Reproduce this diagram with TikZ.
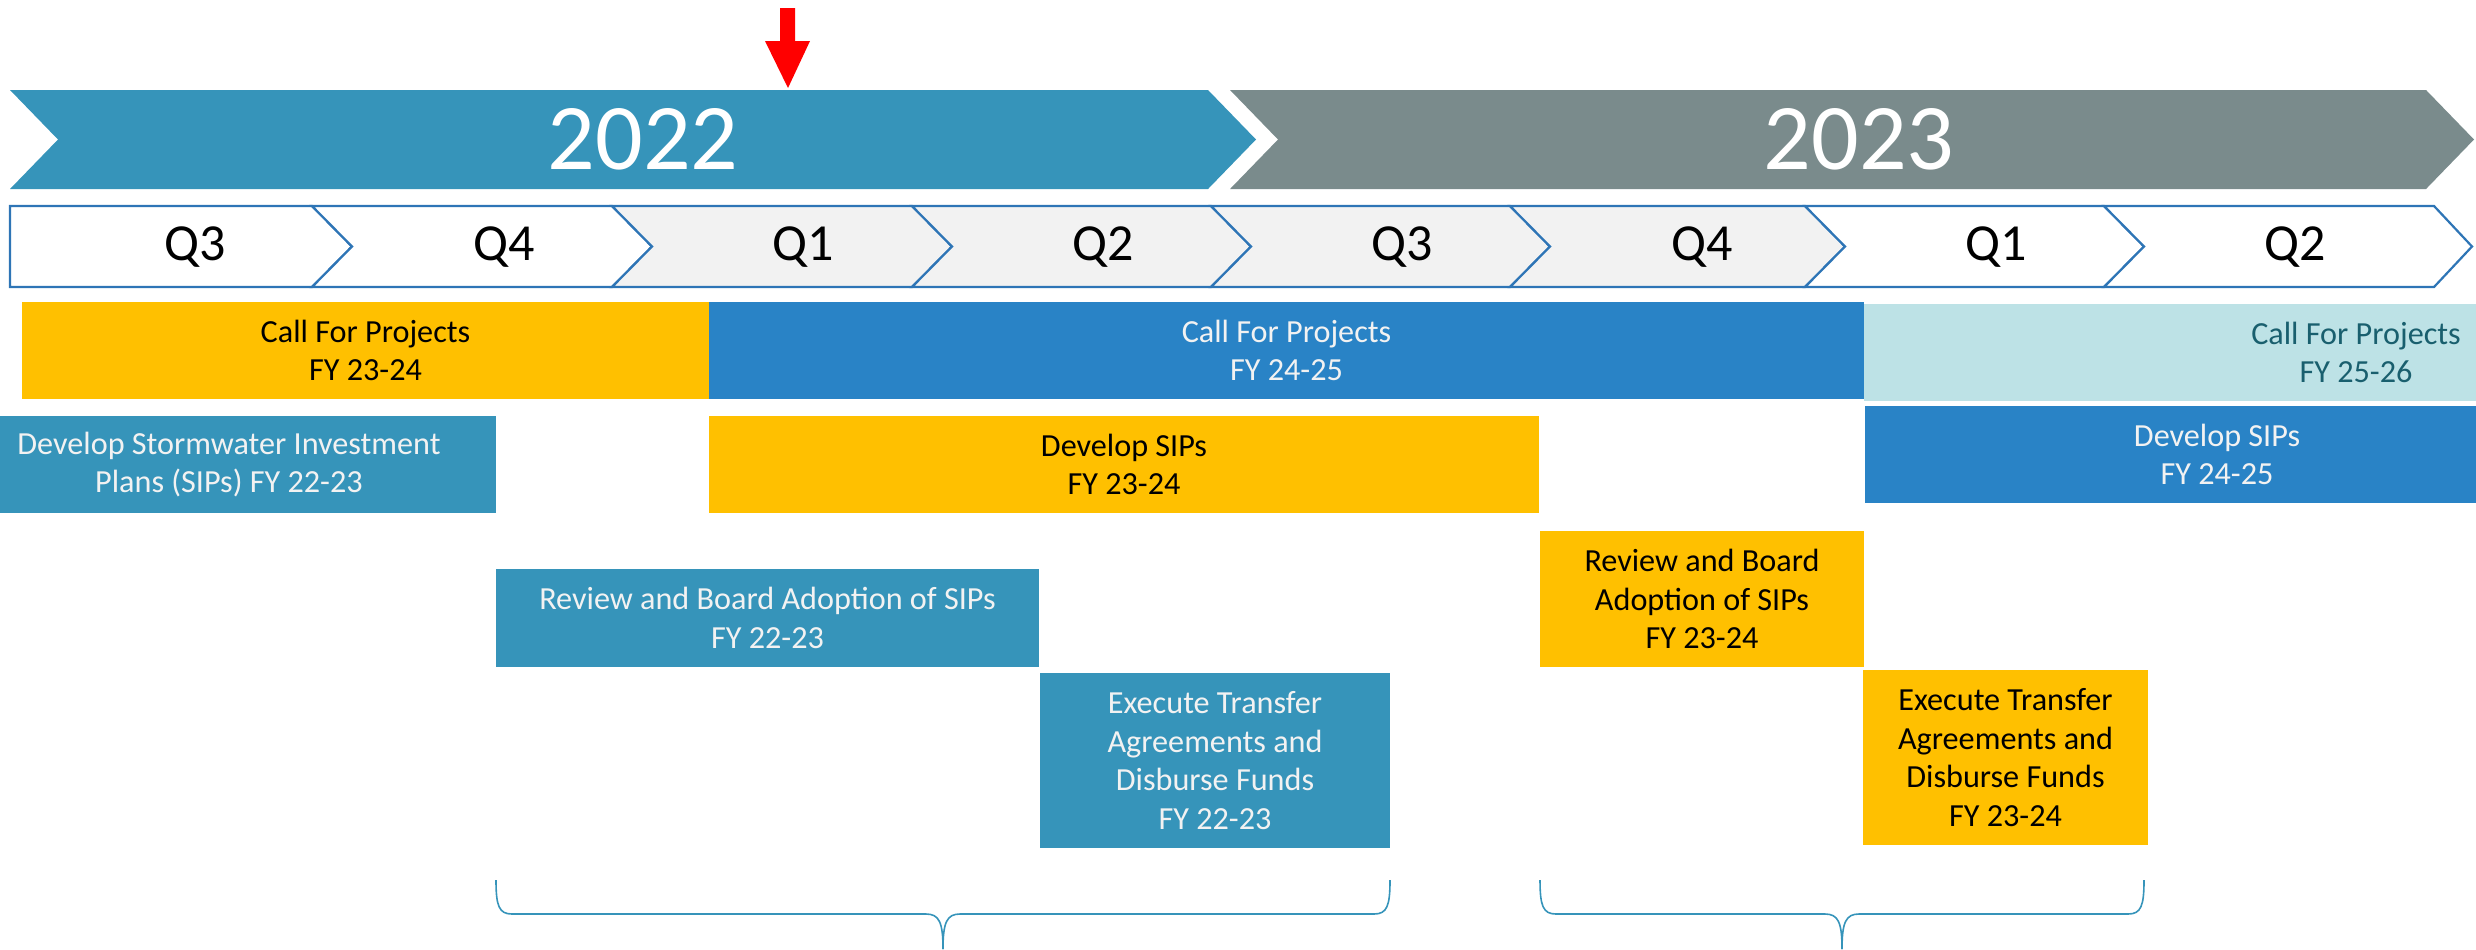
\documentclass[tikz,border=0pt]{standalone}
\usepackage{fontspec}
\setmainfont{Carlito}
\definecolor{steel}{RGB}{54,148,186}
\definecolor{slate}{RGB}{122,139,140}
\definecolor{barblue}{RGB}{41,131,198}
\definecolor{gold}{RGB}{255,192,0}
\definecolor{paleteal}{RGB}{189,226,230}
\definecolor{darkteal}{RGB}{25,95,110}
\definecolor{lighttext}{RGB}{242,242,242}
\definecolor{qline}{RGB}{46,117,182}
\definecolor{qgray}{RGB}{242,242,242}
\begin{document}
\begin{tikzpicture}[x=0.5pt,y=-0.5pt,
  bar/.style={rectangle, inner sep=0pt, outer sep=0pt, align=center,
    font=\fontsize{16.1}{19.2}\selectfont},
  goldbar/.style={bar, fill=gold, text=black},
  steelbar/.style={bar, fill=steel, text=lighttext},
  bluebar/.style={bar, fill=barblue, text=lighttext},
  palebar/.style={bar, fill=paleteal, text=darkteal},
  qsec/.style={draw=qline, line width=1.1pt, line join=miter},
  qlabel/.style={font=\fontsize{26}{28}\selectfont, text=black, inner sep=0pt},
  yearlabel/.style={font=\fontsize{47}{50}\selectfont, text=white, inner sep=0pt},
  bracepath/.style={draw=steel, line width=0.8pt},
]
\clip (0,0) rectangle (2476,949);
\useasboundingbox (0,0) rectangle (2476,949);

% year banners
\fill[steel] (10,90) -- (1208,90) -- (1256,139.5) -- (1208,189) -- (10,189) -- (58,139.5) -- cycle;
\fill[slate] (1230,90) -- (2426,90) -- (2474,139.5) -- (2426,189) -- (1230,189) -- (1278,139.5) -- cycle;
\node[yearlabel] (y2022) at (643,139) {2022};
\node[yearlabel] (y2023) at (1859,139) {2023};

% red marker arrow
\fill[red] (780,8) -- (795,8) -- (795,41) -- (810,41) -- (788,88) -- (765,41) -- (780,41) -- cycle;

% quarter chevrons
\path[qsec, fill=white] (10,206) -- (312,206) -- (352,246.5) -- (312,287) -- (10,287) -- cycle;
\path[qsec, fill=white] (312,206) -- (612,206) -- (652,246.5) -- (612,287) -- (312,287) -- (352,246.5) -- cycle;
\path[qsec, fill=qgray] (612,206) -- (912,206) -- (952,246.5) -- (912,287) -- (612,287) -- (652,246.5) -- cycle;
\path[qsec, fill=qgray] (912,206) -- (1211,206) -- (1251,246.5) -- (1211,287) -- (912,287) -- (952,246.5) -- cycle;
\path[qsec, fill=qgray] (1211,206) -- (1510,206) -- (1550,246.5) -- (1510,287) -- (1211,287) -- (1251,246.5) -- cycle;
\path[qsec, fill=qgray] (1510,206) -- (1805,206) -- (1845,246.5) -- (1805,287) -- (1510,287) -- (1550,246.5) -- cycle;
\path[qsec, fill=white] (1805,206) -- (2104,206) -- (2144,246.5) -- (2104,287) -- (1805,287) -- (1845,246.5) -- cycle;
\path[qsec, fill=white] (2104,206) -- (2434,206) -- (2472,246.5) -- (2434,287) -- (2104,287) -- (2144,246.5) -- cycle;

\node[qlabel] (q1a) at (195,247) {Q3};
\node[qlabel] (q2a) at (504,247) {Q4};
\node[qlabel] (q3a) at (803,247) {Q1};
\node[qlabel] (q4a) at (1103,247) {Q2};
\node[qlabel] (q5a) at (1402,247) {Q3};
\node[qlabel] (q6a) at (1702,247) {Q4};
\node[qlabel] (q7a) at (1996,247) {Q1};
\node[qlabel] (q8a) at (2295,247) {Q2};

% task bars
\node[goldbar, minimum width=343.5pt, minimum height=48.5pt] (cfp1) at (365.5,350.5) {Call For Projects\\FY 23-24};
\node[bluebar, minimum width=577.5pt, minimum height=48.5pt] (cfp2) at (1286.5,350.5) {Call For Projects\\FY 24-25};
\node[palebar, minimum width=492pt, minimum height=48.5pt] (cfp3) at (2356,352.5) {Call For Projects\\FY 25-26};

\node[steelbar, minimum width=267pt, minimum height=48.5pt] (dev1) at (229,464.5) {Develop Stormwater Investment\\Plans (SIPs) FY 22-23};
\node[goldbar, minimum width=415pt, minimum height=48.5pt] (dev2) at (1124,464.5) {Develop SIPs\\FY 23-24};
\node[bluebar, minimum width=352pt, minimum height=48.5pt] (dev3) at (2217,454.5) {Develop SIPs\\FY 24-25};

\node[steelbar, minimum width=271.5pt, minimum height=49pt] (rev1) at (767.5,618) {Review and Board Adoption of SIPs\\FY 22-23};
\node[goldbar, minimum width=162pt, minimum height=68pt] (rev2) at (1702,599) {Review and Board\\Adoption of SIPs\\FY 23-24};

\node[steelbar, minimum width=175pt, minimum height=87.5pt] (exe1) at (1215,760.5) {Execute Transfer\\Agreements and\\Disburse Funds\\FY 22-23};
\node[goldbar, minimum width=142.5pt, minimum height=87.5pt] (exe2) at (2005.5,757.5) {Execute Transfer\\Agreements and\\Disburse Funds\\FY 23-24};

% braces
\path[bracepath] (496,880) .. controls (496,906) and (499,914) .. (512,914) -- (926,914) .. controls (939,914) and (943,922) .. (943,949);
\path[bracepath] (1390,880) .. controls (1390,906) and (1387,914) .. (1374,914) -- (960,914) .. controls (947,914) and (943,922) .. (943,949);
\path[bracepath] (1540,880) .. controls (1540,906) and (1543,914) .. (1556,914) -- (1825,914) .. controls (1838,914) and (1842,922) .. (1842,949);
\path[bracepath] (2144,880) .. controls (2144,906) and (2141,914) .. (2128,914) -- (1859,914) .. controls (1846,914) and (1842,922) .. (1842,949);
\end{tikzpicture}
\end{document}
